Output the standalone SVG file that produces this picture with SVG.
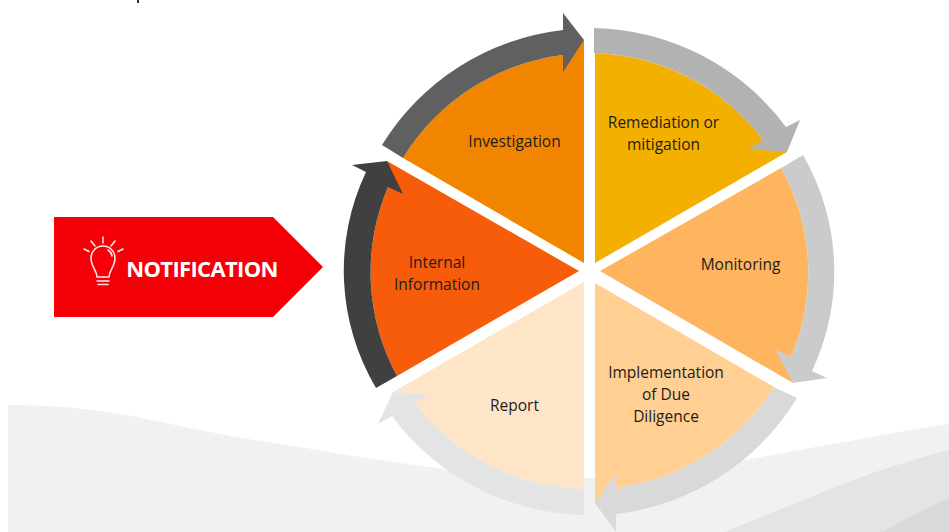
<svg xmlns="http://www.w3.org/2000/svg" width="949" height="532" viewBox="0 0 949 532">
<style>
text{font-family:"Open Sans","Noto Sans","Liberation Sans",sans-serif;font-size:15.500px;fill:#1c1c1c;text-anchor:middle}
.ray{fill:none;stroke:#fff;stroke-width:1.6;stroke-linecap:round;stroke-linejoin:round;opacity:.9}
</style>
<rect width="949" height="532" fill="#fff"/>
<g id="background">
<path d="M8,532V405C40,405 70,407 100,411C135,416 165,423 200,430C235,437 265,442 300,447C335,453 365,458 400,463L443,469C490,474 540,478 590,478C650,478 700,469 745,460C815,447 885,434 949,424V532Z" fill="#f1f1f1"/>
<path d="M725,532C760,518 795,503 833,488C870,473 910,460 949,450V532Z" fill="#e4e4e4"/>
<path d="M882,532C905,520 925,509 949,498V532Z" fill="#d9d9d9"/>
<rect x="137" y="0" width="2" height="3" fill="#333"/>
</g>
<g id="notification">
<path d="M54,217H273L323,267L273,317H54Z" fill="#f50008"/>
<path class="ray" d="M103,237V243M91,241L95,246M115,241L111,246M84,249L89,251.500M123,249L118,251.500"/>
<path class="ray" d="M97,277C97,270 91,267 91,258A12,12 0 1 1 115,258C115,267 109,270 109,277ZM97,281H109M98,284.500H108"/>
<path class="ray" d="M108,250A9,9 0 0 1 112,256"/>
<text x="202" y="277" style="font-size:22px;font-weight:700;fill:#fff;letter-spacing:-.65px">NOTIFICATION</text>
</g>
<g id="investigation">
<path d="M584,263V40L563,55A219,218 0 0 0 403,158Z" fill="#f28500"/>
<text x="514.500" y="146.500">Investigation</text>
</g>
<g id="remediation">
<path d="M595,263V53A219,218 0 0 1 763,140L787,152Z" fill="#f4b000"/>
<text x="663.500" y="127.500">Remediation or</text>
<text x="663.500" y="149.500">mitigation</text>
</g>
<g id="monitoring">
<path d="M600,271L781,168A214,214 0 0 1 791,357L793,383Z" fill="#ffb55f"/>
<text x="740.500" y="269.500">Monitoring</text>
</g>
<g id="implementation">
<path d="M595,283L774,387A219,218 0 0 1 616,488L595,503Z" fill="#ffcf93"/>
<text x="666" y="378">Implementation</text>
<text x="666" y="400">of Due</text>
<text x="666" y="422">Diligence</text>
</g>
<g id="report">
<path d="M584,282V489A219,218 0 0 1 415,403L393,392Z" fill="#ffe5c7"/>
<text x="514.500" y="410.500">Report</text>
</g>
<g id="internal-information">
<path d="M579,271L397,376A219,218 0 0 1 388,187L387,161Z" fill="#f75c0a"/>
<text x="437" y="268">Internal</text>
<text x="437" y="290">Information</text>
</g>
<g id="connectors">
<path d="M382,145A245,243 0 0 1 563,30V13L584,40L563,72V55A219,218 0 0 0 403,158Z" fill="#606060"/>
<path d="M594,28A245,243 0 0 1 786,127L800,120L787,152L749,149L763,140A219,218 0 0 0 594,53Z" fill="#b2b2b2"/>
<path d="M803,155A233,233 0 0 1 812,371L827,378L793,383L775,349L791,357A214,214 0 0 0 781,168Z" fill="#cbcbcb"/>
<path d="M797,398A245,243 0 0 1 616,514V532L595,503L616,473V488A219,218 0 0 0 774,387Z" fill="#d9d9d9"/>
<path d="M584,515A245,243 0 0 1 392,416L378,424L393,392L429,395L415,403A219,218 0 0 0 584,489Z" fill="#e4e4e4"/>
<path d="M376,388A230,230 0 0 1 366,172L352,165L387,161L403,194L388,187A219,218 0 0 0 397,376Z" fill="#404040"/>
</g>
</svg>
